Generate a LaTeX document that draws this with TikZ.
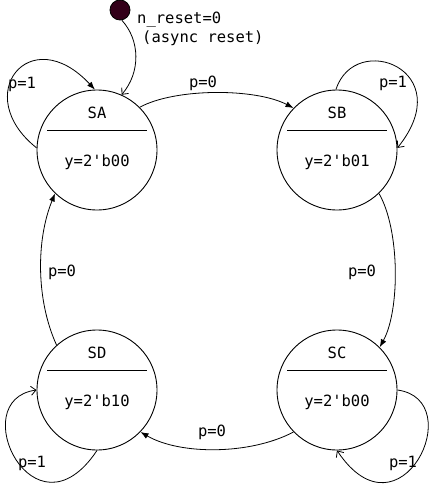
\documentclass[tikz,border=0pt]{standalone}
\usepackage{fontspec}
\setmainfont{DejaVu Sans Mono}
\usetikzlibrary{arrows.meta}
\definecolor{initc}{HTML}{33001A}
\tikzset{
  statenode/.style={circle,draw,line width=0.9pt,minimum size=120pt,inner sep=0pt},
  sep/.style={line width=0.9pt},
  txt/.style={font=\fontsize{15.5}{19}\selectfont,inner sep=0pt},
  edgef/.style={line width=0.8pt,-{Latex[length=8pt,width=6pt]}},
  edgeo/.style={line width=0.8pt,-{Straight Barb[length=5pt,width=9pt,line width=0.8pt]}},
}
\begin{document}
\begin{tikzpicture}[x=1pt,y=-1pt]
\useasboundingbox (0,0) rectangle (433,487);
% states
\foreach \n/\x/\y/\o in {SA/97/150/00, SB/337/150/01, SC/337/390/00, SD/97/390/10}{
  \node[statenode] (\n) at (\x,\y) {};
  \draw[sep] ([xshift=-50pt,yshift=20pt]\n.center) -- ([xshift=50pt,yshift=20pt]\n.center);
  \node[txt] (\n t) at ([yshift=37pt]\n.center) {\n};
  \node[txt] (\n o) at ([yshift=-12pt]\n.center) {y=2\textquotesingle b\o};
}
% initial
\node[circle,draw,fill=initc,minimum size=20pt,inner sep=0pt,line width=0.8pt] (init) at (120,10) {};
\draw[edgeo] (init.-80) .. controls (140,40) and (141,72) .. (SA.66);
\node[txt,align=left,anchor=north west] (rlab) at (137,12) {n\_reset=0\\\hspace*{5pt}(async reset)};
% SA loop
\draw[edgef] (SA.178) .. controls (-30,95) and (30,20) .. (SA.92);
\node[txt] (l1) at (22,84) {p=1};
% SA -> SB
\draw[edgef] (SA.45) .. controls (175,88) and (255,88) .. (SB.136);
\node[txt] (l2) at (203,83) {p=0};
% SB loop
\draw[edgeo] (SB.91) .. controls (355,30) and (460,70) .. (SB.2);
\node[txt] (l3) at (393,83) {p=1};
% SB -> SC
\draw[edgef] (SB.-46) .. controls (400,230) and (400,310) .. (SC.45);
\node[txt] (l4) at (362,272) {p=0};
% SC loop
\draw[edgeo] (SC.0) .. controls (470,400) and (400,545) .. (SC.-90);
\node[txt] (l5) at (403,463) {p=1};
% SC -> SD
\draw[edgef] (SC.-136) .. controls (250,455) and (180,455) .. (SD.-44);
\node[txt] (l6) at (212,432) {p=0};
% SD loop
\draw[edgeo] (SD.-90) .. controls (34,545) and (-36,400) .. (SD.180);
\node[txt] (l7) at (32,463) {p=1};
% SD -> SA
\draw[edgef] (SD.132) .. controls (36,300) and (36,240) .. (SA.-134);
\node[txt] (l8) at (62,272) {p=0};
\end{tikzpicture}
\end{document}
